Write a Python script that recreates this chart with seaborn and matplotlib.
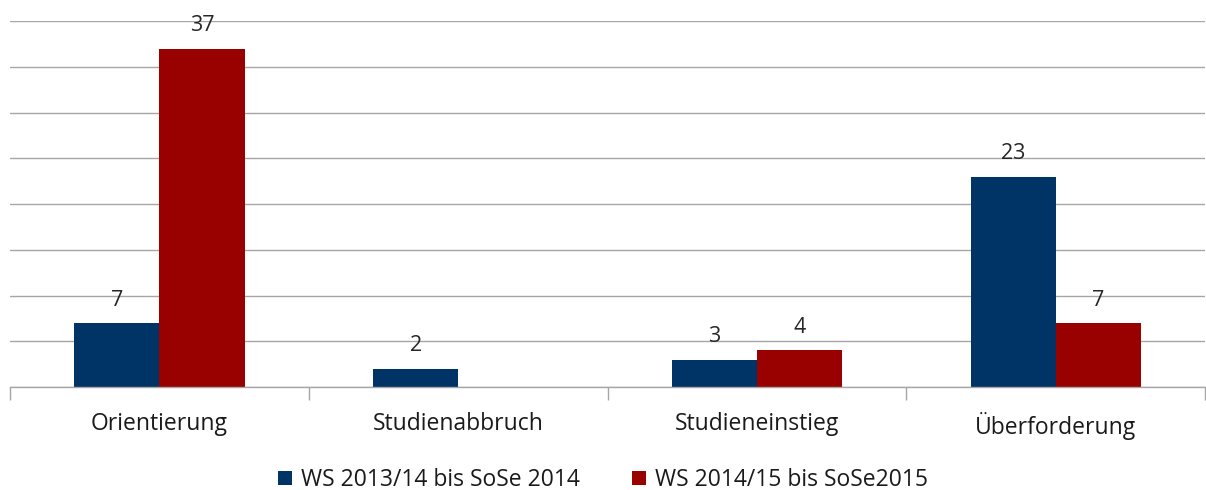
import pandas as pd
import matplotlib.pyplot as plt
import seaborn as sns

# data
categories = ["Orientierung", "Studienabbruch", "Studieneinstieg", "Überforderung"]
series_names = ["WS 2013/14 bis SoSe 2014", "WS 2014/15 bis SoSe2015"]
values_2014 = [7, 2, 3, 23]
values_2015 = [37, 0, 4, 7]

colors = ["#003366", "#990000"]

df = pd.DataFrame({
    "Kategorie": categories * 2,
    "Zeitraum": [series_names[0]] * 4 + [series_names[1]] * 4,
    "Anzahl": values_2014 + values_2015,
})

sns.set_style("white")
plt.rcParams['font.family'] = ['Open Sans', 'DejaVu Sans']

fig = plt.figure(figsize=(12.06, 4.9), dpi=100)
ax = fig.add_axes([0.0083, 0.21, 0.9909, 0.747])

sns.barplot(
    data=df, x="Kategorie", y="Anzahl", hue="Zeitraum",
    order=categories, hue_order=series_names,
    palette=colors, width=0.57, gap=0, saturation=1,
    linewidth=0, ax=ax,
)

# value labels (no label for empty bar)
for cont in ax.containers:
    labels = [f"{v:.0f}" if v > 0 else "" for v in cont.datavalues]
    ax.bar_label(cont, labels=labels, padding=9, fontsize=15.5, color="#262626")

ax.set_ylim(0, 40)
ax.set_xlim(-0.5, 3.5)
ax.set_yticks(range(0, 41, 5))
ax.yaxis.grid(True, color="#a6a6a6", linewidth=1)
ax.set_axisbelow(True)
ax.tick_params(axis="y", left=False, labelleft=False)

# category boundary ticks
ax.set_xticks([i - 0.5 for i in range(5)], minor=True)
ax.tick_params(axis="x", which="minor", length=9, color="#a6a6a6", width=1,
               direction="out", bottom=True)
ax.tick_params(axis="x", which="major", length=0, pad=18, labelsize=16.5,
               labelcolor="#1a1a1a")

for side in ["top", "right", "left"]:
    ax.spines[side].set_visible(False)
ax.spines["bottom"].set_color("#a6a6a6")
ax.spines["bottom"].set_linewidth(1)

ax.set_xlabel("")
ax.set_ylabel("")

handles, labels = ax.get_legend_handles_labels()
ax.legend(handles, labels, loc="center", bbox_to_anchor=(0.5, 0.02),
          bbox_transform=fig.transFigure, ncol=2, frameon=False,
          fontsize=16.5, handlelength=0.6, handleheight=0.6,
          handletextpad=0.4, columnspacing=2.3, labelcolor="#1a1a1a")

fig.savefig("out.png", dpi=100)
